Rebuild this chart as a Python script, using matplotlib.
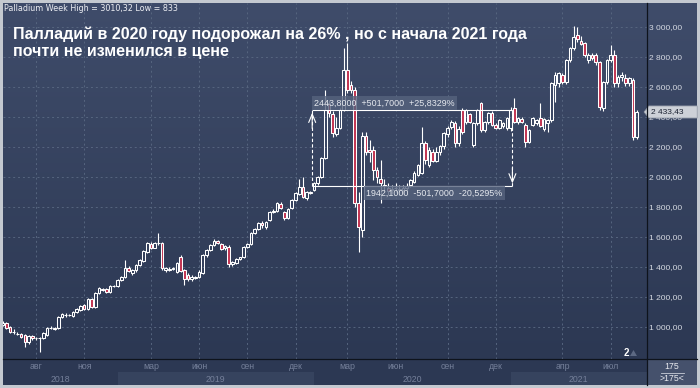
import datetime as dt
import numpy as np
import matplotlib
matplotlib.use("Agg")
import matplotlib.pyplot as plt
from matplotlib.colors import LinearSegmentedColormap
from matplotlib.patches import Polygon
from matplotlib.lines import Line2D
import matplotlib.transforms as mtransforms

plt.rcParams['font.family'] = ['Liberation Sans', 'DejaVu Sans']

# ---------------- data (weekly OHLC, palladium) ----------------
opens = [1015, 1027, 1000, 965, 955, 953, 947, 900, 940, 925,
         927, 925, 947, 993, 993, 993, 1067, 1082, 1080, 1075,
         1100, 1113, 1147, 1120, 1187, 1133, 1227, 1245, 1255, 1235,
         1272, 1273, 1313, 1333, 1393, 1360, 1380, 1413, 1440, 1500,
         1555, 1530, 1558, 1560, 1380, 1383, 1388, 1367, 1467, 1380,
         1350, 1320, 1330, 1335, 1360, 1480, 1513, 1547, 1573, 1553,
         1527, 1533, 1420, 1427, 1453, 1467, 1533, 1553, 1627, 1653,
         1693, 1667, 1713, 1770, 1773, 1820, 1767, 1730, 1793, 1847,
         1887, 1933, 1860, 1895, 1913, 1960, 2000, 2127, 2493, 2420,
         2290, 2327, 2447, 2713, 2613, 2580, 1827, 1647, 2273, 2180,
         2180, 2047, 1990, 1950, 1930, 1915, 1925, 1920, 1915, 1930,
         1947, 1967, 2013, 2027, 2227, 2080, 2170, 2110, 2167, 2207,
         2287, 2333, 2360, 2227, 2447, 2367, 2420, 2213, 2360, 2493,
         2313, 2367, 2427, 2347, 2327, 2340, 2327, 2327, 2460, 2367,
         2390, 2347, 2233, 2347, 2360, 2393, 2320, 2360, 2380, 2613,
         2627, 2680, 2633, 2780, 2860, 2947, 2907, 2893, 2780, 2813,
         2813, 2767, 2460, 2633, 2780, 2813, 2627, 2667, 2660, 2627,
         2647, 2267]
highs = [1040, 1035, 1010, 985, 965, 962, 955, 950, 950, 935,
         935, 965, 1000, 1005, 1000, 1075, 1095, 1095, 1090, 1105,
         1125, 1145, 1155, 1195, 1195, 1235, 1265, 1262, 1262, 1280,
         1280, 1320, 1340, 1447, 1405, 1390, 1420, 1455, 1515, 1565,
         1565, 1565, 1627, 1570, 1400, 1398, 1400, 1435, 1480, 1390,
         1360, 1345, 1342, 1380, 1490, 1520, 1555, 1590, 1580, 1560,
         1545, 1545, 1440, 1460, 1470, 1540, 1560, 1635, 1660, 1700,
         1705, 1710, 1775, 1785, 1835, 1835, 1775, 1795, 1855, 1900,
         1987, 2000, 1905, 1910, 1965, 2005, 2135, 2580, 2510, 2440,
         2400, 2460, 2860, 2893, 2640, 2600, 1900, 2300, 2300, 2250,
         2210, 2070, 2113, 1990, 1960, 1950, 1960, 1950, 1945, 1960,
         1990, 2040, 2090, 2333, 2240, 2200, 2190, 2200, 2215, 2300,
         2340, 2380, 2375, 2340, 2460, 2455, 2430, 2370, 2455, 2500,
         2375, 2435, 2440, 2360, 2390, 2370, 2400, 2470, 2527, 2400,
         2400, 2360, 2320, 2400, 2390, 2493, 2395, 2385, 2633, 2700,
         2700, 2695, 2790, 2870, 3010, 3000, 2940, 2900, 2830, 2830,
         2825, 2775, 2640, 2790, 2880, 2850, 2680, 2700, 2690, 2670,
         2660, 2450]
lows = [1005, 985, 960, 955, 945, 925, 867, 890, 915, 915,
        833, 920, 940, 985, 980, 990, 1060, 1070, 1072, 1070,
        1095, 1108, 1115, 1115, 1125, 1125, 1220, 1240, 1230, 1230,
        1265, 1270, 1305, 1325, 1365, 1350, 1370, 1405, 1435, 1495,
        1520, 1525, 1550, 1380, 1370, 1375, 1378, 1360, 1365, 1280,
        1310, 1310, 1322, 1325, 1355, 1470, 1505, 1540, 1555, 1515,
        1515, 1400, 1410, 1420, 1445, 1460, 1525, 1545, 1620, 1645,
        1660, 1655, 1705, 1760, 1765, 1785, 1715, 1720, 1785, 1840,
        1880, 1860, 1850, 1885, 1905, 1950, 1995, 2120, 2400, 2270,
        2275, 2320, 2440, 2560, 2560, 1800, 1500, 1600, 2150, 2100,
        1980, 1960, 1827, 1900, 1880, 1890, 1900, 1895, 1890, 1910,
        1935, 1960, 2005, 2020, 2090, 2070, 2100, 2100, 2150, 2190,
        2270, 2320, 2200, 2210, 2290, 2355, 2360, 2200, 2350, 2300,
        2300, 2355, 2340, 2320, 2320, 2330, 2315, 2310, 2360, 2355,
        2360, 2200, 2225, 2340, 2350, 2335, 2310, 2300, 2370, 2500,
        2600, 2620, 2620, 2770, 2850, 2900, 2880, 2800, 2760, 2780,
        2750, 2450, 2440, 2620, 2770, 2600, 2600, 2640, 2610, 2610,
        2250, 2255]
closes = [1030, 993, 967, 970, 952, 933, 900, 940, 925, 928,
          925, 960, 993, 995, 990, 1067, 1087, 1078, 1083, 1100,
          1120, 1140, 1120, 1187, 1133, 1227, 1260, 1255, 1235, 1273,
          1275, 1313, 1333, 1393, 1373, 1380, 1413, 1447, 1507, 1560,
          1530, 1560, 1562, 1393, 1393, 1390, 1392, 1427, 1373, 1320,
          1320, 1335, 1335, 1370, 1480, 1513, 1547, 1573, 1560, 1520,
          1540, 1420, 1433, 1453, 1467, 1533, 1553, 1627, 1653, 1693,
          1680, 1700, 1767, 1773, 1827, 1793, 1727, 1787, 1847, 1893,
          1933, 1867, 1900, 1900, 1960, 2000, 2127, 2447, 2427, 2293,
          2330, 2447, 2713, 2580, 2580, 1827, 1667, 2273, 2167, 2170,
          2047, 2000, 1960, 1940, 1905, 1920, 1930, 1915, 1925, 1940,
          1980, 2027, 2080, 2227, 2113, 2180, 2110, 2170, 2207, 2293,
          2327, 2367, 2227, 2320, 2300, 2447, 2367, 2360, 2447, 2313,
          2367, 2427, 2347, 2327, 2380, 2360, 2393, 2444, 2367, 2393,
          2370, 2233, 2313, 2393, 2380, 2340, 2390, 2380, 2627, 2680,
          2693, 2633, 2780, 2860, 2933, 2920, 2887, 2813, 2813, 2793,
          2767, 2467, 2633, 2780, 2813, 2627, 2667, 2680, 2627, 2660,
          2267, 2433]

first_week = dt.date(2018, 6, 4)
last_price = 2433.43
header = "Palladium Week High = 3010,32 Low = 833"
title_lines = ["Палладий в 2020 году подорожал на 26% , но с начала 2021 года",
               "почти не изменился в цене"]
y_ticks = [1000, 1200, 1400, 1600, 1800, 2000, 2200, 2400, 2600, 2800, 3000]
month_ticks = [("2018-08", "авг"), ("2018-11", "ноя"), ("2019-03", "мар"),
               ("2019-06", "июн"), ("2019-09", "сен"), ("2019-12", "дек"),
               ("2020-03", "мар"), ("2020-06", "июн"), ("2020-09", "сен"),
               ("2020-12", "дек"), ("2021-04", "апр"), ("2021-07", "июл")]
measure_low, measure_high = 1942.1, 2443.8
measure_text_hi = "2443,8000  +501,7000  +25,8329%"
measure_text_lo = "1942,1000  -501,7000  -20,5295%"
bars_count_text = ("175", ">175<")

# ---------------- bar dates (weekly, year start split) ----------------
N = len(closes)
bar_dates = []
d = first_week
while len(bar_dates) < N:
    bar_dates.append(d)
    nxt = d + dt.timedelta(days=7)
    ny = dt.date(nxt.year, 1, 1)
    if d < ny < nxt:
        bar_dates.append(ny)
    d = nxt
bar_dates = bar_dates[:N]


def first_bar_on_or_after(day):
    for i, bd in enumerate(bar_dates):
        if bd >= day:
            return i
    return N


month_idx = []
for ym, _ in month_ticks:
    y, m = map(int, ym.split("-"))
    month_idx.append(first_bar_on_or_after(dt.date(y, m, 1)))

# ---------------- figure ----------------
W, H = 700, 388
fig = plt.figure(figsize=(W / 100, H / 100), dpi=100, facecolor="#c4c9d0")


def fr(x0, y0, x1, y1):
    return [x0 / W, 1 - y1 / H, (x1 - x0) / W, (y1 - y0) / H]


# gradient background for plot + price scale
bg = fig.add_axes(fr(3, 3, 697, 359), zorder=0)
grad = np.linspace(0, 1, 256).reshape(-1, 1)
cmap = LinearSegmentedColormap.from_list("bg", ["#3f4c6a", "#2c3853"])
bg.imshow(grad, aspect="auto", cmap=cmap, extent=[0, 1, 0, 1], origin="upper")
bg.axis("off")

XL = (0.11, 173.8)
YL = (786.7, 3160)

ax = fig.add_axes(fr(3, 3, 647, 359), zorder=3)
ax.set_facecolor("none")
ax.set_xlim(*XL)
ax.set_ylim(*YL)
for s in ax.spines.values():
    s.set_visible(False)
ax.set_xticks(month_idx)
ax.set_xticklabels([])
ax.tick_params(axis="x", length=0)
ax.yaxis.tick_right()
ax.set_yticks(y_ticks)
ax.set_yticklabels([f"{v:,.2f}".replace(",", " ").replace(".", ",") for v in y_ticks])
ax.tick_params(axis="y", length=0, pad=1.5, labelsize=6, labelcolor="#d6dae2")
ax.grid(True, color="#56657f", linestyle=(0, (2, 3)), linewidth=0.7)
ax.set_axisbelow(True)

# candles
x = np.arange(N)
o = np.array(opens, float)
h = np.array(highs, float)
l = np.array(lows, float)
c = np.array(closes, float)
up = c >= o
blo = np.minimum(o, c)
bhi = np.maximum(o, c)
ax.vlines(x, l, blo, color="white", lw=0.8, zorder=4)
ax.vlines(x, bhi, h, color="white", lw=0.8, zorder=4)
ax.bar(x, bhi - blo, bottom=blo, width=0.72,
       color=["none" if u else "#c23552" for u in up],
       edgecolor="white", linewidth=0.75, zorder=5)

# measurement tool (end of 2019 -> end of 2020)
m_left = first_bar_on_or_after(dt.date(2020, 1, 1)) - 0.5
m_right = first_bar_on_or_after(dt.date(2021, 1, 1)) + 0.5
ax.hlines([measure_high, measure_low], m_left, m_right, color="white", lw=0.8, zorder=6)
ax.vlines([m_left, m_right], measure_low, measure_high, color="white", lw=0.8,
          linestyles=(0, (3, 2)), zorder=6)
ax.annotate("", xy=(m_left, measure_high - 15), xytext=(m_left, measure_high - 120),
            arrowprops=dict(arrowstyle="->,head_length=0.6,head_width=0.25", color="white",
                            lw=0.8, shrinkA=0, shrinkB=0), zorder=6)
ax.annotate("", xy=(m_right, measure_low + 15), xytext=(m_right, measure_low + 120),
            arrowprops=dict(arrowstyle="->,head_length=0.6,head_width=0.25", color="white",
                            lw=0.8, shrinkA=0, shrinkB=0), zorder=6)
box = dict(boxstyle="square,pad=0.25", facecolor="#56637e", edgecolor="none", alpha=0.8)
ax.annotate(measure_text_hi, xy=(m_left, measure_high), xytext=(2, 7.5),
            textcoords="offset pixels", ha="left", va="center", fontsize=6.4,
            color="#e6e9ef", bbox=box, zorder=7)
ax.annotate(measure_text_lo, xy=(m_right, measure_low), xytext=(-10, -7.5),
            textcoords="offset pixels", ha="right", va="center", fontsize=6.4,
            color="#e6e9ef", bbox=box, zorder=7)

# price tag on the right scale
tr = mtransforms.blended_transform_factory(ax.transAxes, ax.transData)
hh = 6 * 6.667
tag = Polygon([(0.9955, last_price), (1.003, last_price + hh), (1.078, last_price + hh),
               (1.078, last_price - hh), (1.003, last_price - hh)], closed=True,
              transform=tr, facecolor="#cdd1d8", edgecolor="#9aa1ad", lw=0.6,
              clip_on=False, zorder=20)
ax.add_patch(tag)
ax.text(1.006, last_price, f"{last_price:,.2f}".replace(",", " ").replace(".", ","),
        transform=tr, ha="left", va="center", fontsize=6, color="#1b2232",
        clip_on=False, zorder=21)

# marker "2"
fig.text(624 / W, 1 - 356 / H, "2", fontsize=7, fontweight="bold", color="white", va="baseline")
fig.patches.append(Polygon([(630 / W, 1 - 356 / H), (637 / W, 1 - 356 / H), (633.5 / W, 1 - 350 / H)],
                           closed=True, transform=fig.transFigure, facecolor="#5d6983",
                           edgecolor="none"))

# bottom time axis
axb = fig.add_axes(fr(3, 359, 647, 385), zorder=1)
axb.set_facecolor("#2c3853")
axb.set_xlim(*XL)
axb.set_ylim(0, 1)
axb.set_xticks([])
axb.set_yticks([])
for s in axb.spines.values():
    s.set_visible(False)
years = sorted(set(bd.year for bd in bar_dates))
for k, yr in enumerate(years):
    s0 = first_bar_on_or_after(dt.date(yr, 1, 1))
    s1 = first_bar_on_or_after(dt.date(yr + 1, 1, 1)) if yr != years[-1] else XL[1]
    s0 = max(s0, XL[0])
    s1 = min(s1, XL[1])
    if k % 2 == 1:
        axb.axvspan(s0, s1, ymin=0, ymax=0.5, color="#36435e", lw=0)
    axb.text((s0 + s1) / 2, 0.22, str(yr), ha="center", va="center",
             fontsize=6.3, color="#75809a")
for xi, (_, lab) in zip(month_idx, month_ticks):
    axb.text(xi, 0.7, lab, ha="center", va="center", fontsize=6.3, color="#75809a")

# corner box
axc = fig.add_axes(fr(647, 359, 697, 385), zorder=1)
axc.set_facecolor("#45516c")
axc.set_xlim(0, 1)
axc.set_ylim(0, 1)
axc.set_xticks([])
axc.set_yticks([])
for s in axc.spines.values():
    s.set_visible(False)
axc.text(0.5, 0.7, bars_count_text[0], transform=axc.transAxes, ha="center", va="center",
         fontsize=6.3, color="#e8eaef")
axc.plot([0.27, 0.73], [0.48, 0.48], color="#c9ced8", lw=0.6, transform=axc.transAxes)
axc.text(0.5, 0.24, bars_count_text[1], transform=axc.transAxes, ha="center", va="center",
         fontsize=6.3, color="#e8eaef")

# separators
fig.lines.append(Line2D([647 / W, 647 / W], [1 - 3 / H, 1 - 385 / H], transform=fig.transFigure,
                        color="#0e131c", lw=0.9, zorder=30))
fig.lines.append(Line2D([3 / W, 697 / W], [1 - 359 / H, 1 - 359 / H], transform=fig.transFigure,
                        color="#0e131c", lw=0.9, zorder=30))

# texts
fig.text(4 / W, 1 - 11.3 / H, header, fontsize=5.8, color="#eceef3", va="baseline",
         family=["DejaVu Sans"])
fig.text(13 / W, 1 - 38.5 / H, title_lines[0], fontsize=11.5, fontweight="bold",
         color="white", va="baseline")
fig.text(13 / W, 1 - 56.0 / H, title_lines[1], fontsize=11.5, fontweight="bold",
         color="white", va="baseline")

fig.savefig("out.png", dpi=100, facecolor=fig.get_facecolor())
